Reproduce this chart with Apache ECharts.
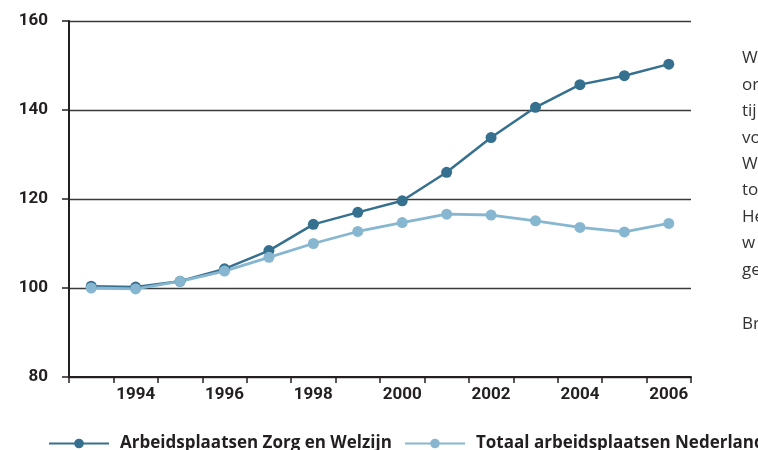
<!DOCTYPE html>
<html>
<head>
<meta charset="utf-8">
<script src="https://cdn.jsdelivr.net/npm/echarts@6/dist/echarts.min.js"></script>
<style>
html,body{margin:0;padding:0;background:#fff;}
#c{width:758px;height:450px;}
</style>
</head>
<body>
<div id="c"></div>
<script>
const years = ['1993','1994','1995','1996','1997','1998','1999','2000','2001','2002','2003','2004','2005','2006'];
const zorgWelzijn = [100.4, 100.2, 101.5, 104.3, 108.4, 114.3, 117.0, 119.6, 126.0, 133.8, 140.6, 145.7, 147.7, 150.3];
const totaalNederland = [100.0, 99.8, 101.5, 103.8, 106.9, 110.0, 112.7, 114.7, 116.6, 116.4, 115.1, 113.6, 112.6, 114.5];
const seriesNames = ['Arbeidsplaatsen Zorg en Welzijn', 'Totaal arbeidsplaatsen Nederland'];
const sideText = ['W', 'or', 'tij', 'vo', 'W', 'to', 'He', 'w', 'ge', '', 'Br'];

const chart = echarts.init(document.getElementById('c'), null, {renderer: 'canvas'});
const axisFont = 'Roboto, sans-serif';
const darkC = '#35708f';
const lightC = '#87b7d0';

const graphics = sideText.map((t, i) => ({
  type: 'text',
  left: 742,
  top: 50 + i * 26.4 + (i >= 10 ? 2 : 0),
  style: {text: t, font: '17px "Open Sans", sans-serif', fill: '#333'}
}));

const legendText = {fontFamily: '"Open Sans", sans-serif', fontWeight: 'bold', fontSize: 17, color: '#231f20', padding: [0, 0, 0, 6]};

chart.setOption({
  animation: false,
  grid: {left: 69, right: 67, top: 21, bottom: 73, containLabel: false},
  legend: [
    {
      left: 48, top: 435, padding: 0,
      itemWidth: 60, itemHeight: 12,
      textStyle: legendText,
      data: [seriesNames[0]]
    },
    {
      left: 404, top: 435, padding: 0, width: 400,
      itemWidth: 60, itemHeight: 12,
      textStyle: legendText,
      data: [seriesNames[1]]
    }
  ],
  xAxis: {
    type: 'category',
    data: years,
    boundaryGap: true,
    axisLine: {lineStyle: {color: '#231f20', width: 2}},
    axisTick: {show: true, interval: 0, length: 6, lineStyle: {color: '#231f20', width: 1.5}},
    axisLabel: {
      interval: (idx) => idx % 2 === 1,
      margin: 9,
      fontFamily: axisFont, fontWeight: 'bold', fontSize: 17, color: '#231f20'
    },
    splitLine: {show: false}
  },
  yAxis: {
    type: 'value',
    min: 80, max: 160, interval: 20,
    axisLine: {show: true, lineStyle: {color: '#231f20', width: 2}},
    axisTick: {show: true, length: 7, lineStyle: {color: '#231f20', width: 1.5}},
    axisLabel: {margin: 21, fontFamily: axisFont, fontWeight: 'bold', fontSize: 17, color: '#231f20'},
    splitLine: {show: true, lineStyle: {color: '#3a3a3a', width: 1.3}}
  },
  series: [
    {
      name: seriesNames[0], type: 'line', data: zorgWelzijn,
      symbol: 'circle', symbolSize: 11,
      lineStyle: {color: darkC, width: 2.5},
      itemStyle: {color: darkC}
    },
    {
      name: seriesNames[1], type: 'line', data: totaalNederland,
      symbol: 'circle', symbolSize: 11,
      lineStyle: {color: lightC, width: 2.8},
      itemStyle: {color: lightC}
    }
  ],
  graphic: graphics
});
</script>
</body>
</html>
